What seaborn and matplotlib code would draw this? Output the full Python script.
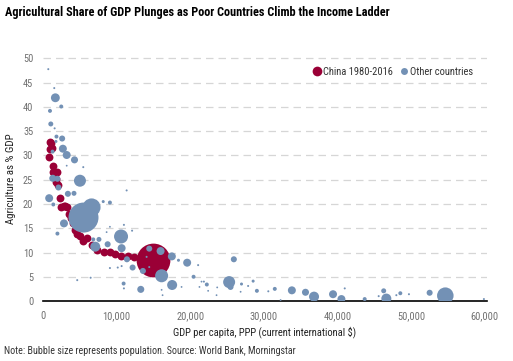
import matplotlib
matplotlib.use("Agg")
import matplotlib.pyplot as plt
import matplotlib.ticker as mticker
import seaborn as sns
import pandas as pd

# --- data ---
china_year = list(range(1980, 2017))
china_gdp = [850, 950, 1000, 1080, 1200, 1330, 1420, 1550, 1700, 1780,
             1850, 2000, 2250, 2500, 2800, 3050, 3300, 3550, 3800, 4050,
             4350, 4650, 5000, 5450, 6000, 6600, 7400, 8300, 9100, 9800,
             10600, 11500, 12400, 13300, 14100, 14800, 15000]
china_agri = [29.6, 31.4, 32.8, 32.6, 31.5, 27.9, 26.6, 26.3, 25.2, 24.6,
              26.6, 24.0, 21.3, 19.3, 19.5, 19.6, 19.3, 17.9, 17.2, 16.1,
              14.7, 13.9, 13.3, 12.3, 12.9, 11.6, 10.6, 10.2, 10.2, 9.6,
              9.3, 9.2, 9.1, 8.9, 8.6, 8.4, 8.4]
china_pop_2016 = 1379  # millions

other_gdp = [720, 1530, 1680, 2480, 950, 1060, 1580, 1830, 2600, 1760,
             2700, 1300, 3220, 4280, 3220, 5470, 1330, 1960, 5020, 2100,
             11360, 840, 3380, 4210, 1400, 5500, 6600, 2850, 1960, 10600,
             10680, 7100, 8780, 7600, 6830, 10990, 12100, 9090, 8640, 8180,
             9090, 11400, 12170, 9090, 10150, 10680, 4650, 6470, 10950, 10990,
             13280, 14430, 15970, 17500, 18400, 19580, 13570, 14430, 16110, 17540,
             20450, 18820, 21250, 16110, 16240, 14070, 21070, 21850, 22250, 25280,
             25470, 25920, 26960, 27860, 28540, 29050, 30600, 31480, 32270, 33800,
             35650, 36810, 39390, 40530, 40980, 43690, 45590, 46270, 46630, 47990,
             48530, 49700, 52510, 54640, 59880, 23570, 23660, 22430, 26840, 21530]
other_agri = [47.8, 43.9, 41.9, 40.1, 39.2, 36.5, 35.6, 33.9, 33.5, 32.9,
              31.4, 30.8, 30.1, 29.1, 27.9, 27.6, 25.3, 25.2, 24.8, 23.4,
              22.8, 21.2, 22.1, 22.2, 19.9, 17.2, 19.3, 16.0, 13.9, 13.3,
              10.9, 11.2, 11.7, 12.7, 12.7, 15.7, 14.5, 15.3, 14.2, 20.5,
              20.3, 8.6, 6.9, 6.8, 6.9, 7.2, 4.3, 4.8, 3.6, 2.6,
              2.4, 10.8, 10.3, 9.2, 8.4, 7.9, 6.2, 7.0, 5.2, 3.3,
              5.0, 2.9, 2.9, 2.3, 1.2, 9.1, 7.4, 4.0, 3.4, 3.9,
              2.9, 8.6, 3.5, 3.1, 4.1, 2.1, 2.0, 2.5, 0.2, 2.2,
              1.8, 0.9, 1.4, 0.4, 2.6, 0.4, 1.0, 2.1, 0.5, 1.2,
              1.6, 1.4, 1.7, 1.1, 0.4, 1.2, 2.8, 2.1, 1.9, 4.0]
other_pop = [5, 5, 95, 19, 19, 30, 5, 19, 44, 11,
             77, 19, 77, 60, 4, 5, 60, 44, 174, 44,
             5, 77, 44, 30, 19, 1090, 390, 77, 19, 237,
             77, 121, 44, 30, 19, 5, 5, 4, 4, 11,
             19, 44, 44, 5, 5, 5, 5, 5, 19, 5,
             60, 44, 77, 77, 11, 77, 44, 5, 205, 121,
             19, 4, 4, 4, 4, 5, 5, 5, 19, 174,
             44, 44, 11, 5, 11, 19, 5, 19, 4, 77,
             60, 121, 77, 77, 5, 19, 5, 30, 121, 5,
             19, 5, 44, 330, 5, 4, 4, 4, 4, 4]

y_ticks = list(range(0, 51, 5))
x_ticks = list(range(0, 60001, 10000))

red = "#9A0036"
blue = "#7391B5"
pop_max = 1400
size_max = 600

china = pd.DataFrame({"year": china_year, "gdp": china_gdp, "agri": china_agri})
china["pop"] = None
china.loc[china["year"] == 2016, "pop"] = china_pop_2016
others = pd.DataFrame({"gdp": other_gdp, "agri": other_agri, "pop": other_pop})

sns.set_style("white")
plt.rcParams["font.family"] = ["Roboto Condensed", "DejaVu Sans"]

fig = plt.figure(figsize=(5.13, 3.61), dpi=100)
ax = fig.add_axes([0.0838, 0.1662, 0.8655, 0.6758])

# China history: small constant markers, 2016: sized by population
hist = china[china["pop"].isna()]
last = china[china["pop"].notna()].astype({"pop": float})
sns.scatterplot(data=hist, x="gdp", y="agri", color=red, s=32,
                linewidth=0, ax=ax, legend=False, zorder=2)
sns.scatterplot(data=last, x="gdp", y="agri", size="pop", color=red,
                sizes=(0, size_max), size_norm=(0, pop_max),
                linewidth=0, ax=ax, legend=False, zorder=2)
sns.scatterplot(data=others, x="gdp", y="agri", size="pop", color=blue,
                sizes=(0, size_max), size_norm=(0, pop_max),
                linewidth=0, ax=ax, legend=False, zorder=3)

ax.set_xlim(0, 60300)
ax.set_ylim(0, 50.3)
ax.set_yticks(y_ticks)
ax.set_xticks(x_ticks)
ax.xaxis.set_major_formatter(mticker.StrMethodFormatter("{x:,.0f}"))
ax.tick_params(axis="both", length=0, labelsize=7.5, labelcolor="#707070")
ax.tick_params(axis="y", pad=7)
ax.tick_params(axis="x", pad=7)

for v in y_ticks[1:]:
    ax.axhline(v, color="#d6d6d6", lw=0.9, ls=(0, (6, 4)), zorder=0)
for s in ["top", "right", "left"]:
    ax.spines[s].set_visible(False)
ax.spines["bottom"].set_color("black")
ax.spines["bottom"].set_linewidth(1.2)

ax.set_xlabel("GDP per capita, PPP (current international $)", fontsize=7.6,
              color="#222222", labelpad=4)
ax.set_ylabel("Agriculture as % GDP", fontsize=7.8, color="#222222", labelpad=5)

handles = [
    plt.Line2D([], [], marker="o", ls="", color=red, markersize=7, markeredgewidth=0),
    plt.Line2D([], [], marker="o", ls="", color=blue, markersize=5, markeredgewidth=0),
]
ax.legend(handles, ["China 1980-2016", "Other countries"], ncol=2, frameon=False,
          loc="upper right", bbox_to_anchor=(0.99, 1.0), fontsize=7.6,
          handletextpad=0.05, columnspacing=0.6, handlelength=1.0,
          labelcolor="#333333")

fig.text(0.01, 0.983, "Agricultural Share of GDP Plunges as Poor Countries Climb the Income Ladder",
         fontsize=8.85, fontweight="bold", color="black", va="top")
fig.text(0.008, 0.015, "Note: Bubble size represents population. Source: World Bank, Morningstar",
         fontsize=7.2, color="#333333", va="bottom")

fig.savefig("out.png", dpi=100)
